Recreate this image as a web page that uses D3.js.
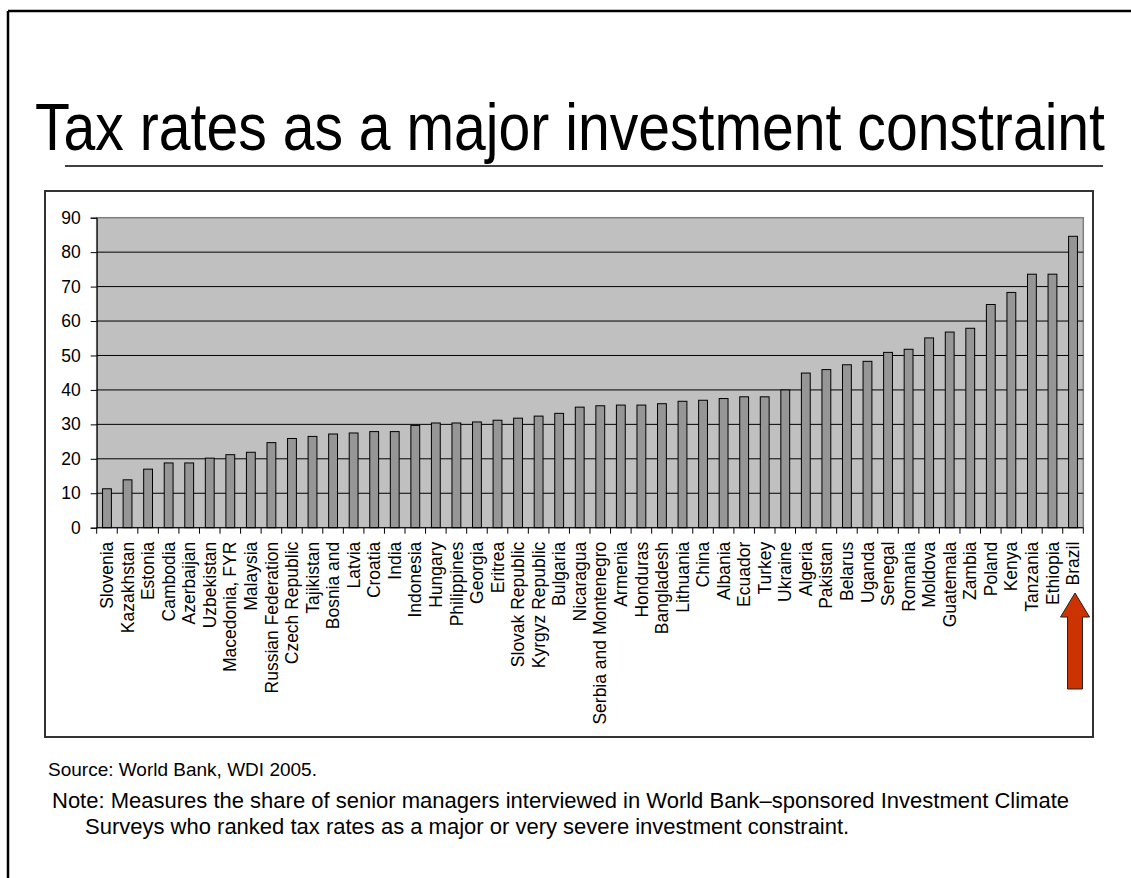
<!DOCTYPE html>
<html>
<head>
<meta charset="utf-8">
<script src="https://cdn.jsdelivr.net/npm/d3@7"></script>
<style>
  body { margin: 0; background: #fff; }
  svg { display: block; font-family: "Liberation Sans", Arial, sans-serif; }
</style>
</head>
<body>
<svg id="chart" width="1131" height="878"></svg>
<script>
// countries, sorted by share
var countries = ["Slovenia", "Kazakhstan", "Estonia", "Cambodia", "Azerbaijan", "Uzbekistan",
  "Macedonia, FYR", "Malaysia", "Russian Federation", "Czech Republic", "Tajikistan", "Bosnia and",
  "Latvia", "Croatia", "India", "Indonesia", "Hungary", "Philippines", "Georgia", "Eritrea",
  "Slovak Republic", "Kyrgyz Republic", "Bulgaria", "Nicaragua", "Serbia and Montenegro", "Armenia",
  "Honduras", "Bangladesh", "Lithuania", "China", "Albania", "Ecuador", "Turkey", "Ukraine",
  "Algeria", "Pakistan", "Belarus", "Uganda", "Senegal", "Romania", "Moldova", "Guatemala",
  "Zambia", "Poland", "Kenya", "Tanzania", "Ethiopia", "Brazil"];

// % of managers ranking tax rates a major constraint
var shares = [11.3, 13.9, 17.0, 18.8, 18.8, 20.2, 21.2, 21.9, 24.7, 25.9, 26.5, 27.2,
  27.5, 27.9, 27.9, 29.7, 30.4, 30.4, 30.7, 31.2, 31.8, 32.4, 33.2, 35.0, 35.4, 35.6,
  35.6, 36.0, 36.7, 37.0, 37.5, 38.0, 38.0, 40.0, 44.9, 45.9, 47.3, 48.3, 50.9, 51.8,
  55.1, 56.8, 57.9, 64.8, 68.3, 73.6, 73.6, 84.6];

var yTicks = [0, 10, 20, 30, 40, 50, 60, 70, 80, 90];
var highlight = "Brazil";

var svg = d3.select("#chart");

// slide frame
svg.append("line").attr("x1", 8).attr("y1", 11).attr("x2", 1131).attr("y2", 11)
  .attr("stroke", "#000").attr("stroke-width", 2.5);
svg.append("line").attr("x1", 8).attr("y1", 11).attr("x2", 8).attr("y2", 878)
  .attr("stroke", "#000").attr("stroke-width", 2.5);

// title + rule
svg.append("text")
  .attr("x", 35).attr("y", 150)
  .attr("font-size", 66)
  .attr("textLength", 1070).attr("lengthAdjust", "spacingAndGlyphs")
  .text("Tax rates as a major investment constraint");
svg.append("line").attr("x1", 65).attr("y1", 166).attr("x2", 1103).attr("y2", 166)
  .attr("stroke", "#000").attr("stroke-width", 1.5);

// chart box
svg.append("rect").attr("x", 45).attr("y", 191).attr("width", 1048).attr("height", 546)
  .attr("fill", "#fff").attr("stroke", "#333").attr("stroke-width", 2);

var plotL = 96.7, plotR = 1083.3, plotT = 217.7, plotB = 527.7;

var x = d3.scaleBand().domain(countries).range([plotL, plotR])
  .paddingInner(0.57).paddingOuter(0.285);
var y = d3.scaleLinear().domain([0, 90]).range([plotB, plotT]);

var g = svg.append("g");

// plot background
g.append("rect").attr("x", plotL).attr("y", plotT).attr("width", plotR - plotL).attr("height", plotB - plotT)
  .attr("fill", "#c0c0c0").attr("stroke", "#808080").attr("stroke-width", 1.5);

// gridlines
g.selectAll(".grid").data(yTicks.filter(function(d) { return d > 0 && d < 90; }))
  .enter().append("line")
  .attr("x1", plotL).attr("x2", plotR)
  .attr("y1", function(d) { return y(d); }).attr("y2", function(d) { return y(d); })
  .attr("stroke", "#000").attr("stroke-width", 1);

// bars
g.selectAll(".bar").data(countries).enter().append("rect")
  .attr("x", function(d) { return x(d); })
  .attr("width", x.bandwidth())
  .attr("y", function(d, i) { return y(shares[i]); })
  .attr("height", function(d, i) { return plotB - y(shares[i]); })
  .attr("fill", "#969696").attr("stroke", "#000").attr("stroke-width", 1);

// y axis
var yAxis = g.append("g").attr("transform", "translate(" + plotL + ",0)")
  .call(d3.axisLeft(y).tickValues(yTicks).tickSize(6).tickPadding(10));
yAxis.select(".domain").attr("stroke", "#000");
yAxis.selectAll("line").attr("stroke", "#000");
yAxis.selectAll("text").attr("font-size", 17.5).attr("font-family", "Liberation Sans, Arial, sans-serif").attr("fill", "#000");

// x axis: ticks on band boundaries
var step = x.step();
var edges = d3.range(countries.length + 1).map(function(i) { return plotL + i * step; });
g.append("line").attr("x1", plotL).attr("x2", plotR).attr("y1", plotB).attr("y2", plotB)
  .attr("stroke", "#000").attr("stroke-width", 1);
g.selectAll(".xtick").data(edges).enter().append("line")
  .attr("x1", function(d) { return d; }).attr("x2", function(d) { return d; })
  .attr("y1", plotB).attr("y2", plotB + 6)
  .attr("stroke", "#000").attr("stroke-width", 1);

g.selectAll(".xlabel").data(countries).enter().append("text")
  .attr("transform", function(d) {
    return "translate(" + (x(d) + x.bandwidth() / 2) + "," + (plotB + 14) + ") rotate(-90)";
  })
  .attr("dy", "0.35em")
  .attr("text-anchor", "end")
  .attr("font-size", 17.5)
  .text(function(d) { return d; });

// arrow under Brazil
var ax = x(highlight) + x.bandwidth() / 2 + 2;
var arrow = d3.path();
arrow.moveTo(ax, 593);
arrow.lineTo(ax + 14.5, 617);
arrow.lineTo(ax + 7.5, 617);
arrow.lineTo(ax + 7.5, 689);
arrow.lineTo(ax - 7.5, 689);
arrow.lineTo(ax - 7.5, 617);
arrow.lineTo(ax - 14.5, 617);
arrow.closePath();
svg.append("path").attr("d", arrow.toString())
  .attr("fill", "#cc3300").attr("stroke", "#222").attr("stroke-width", 1);

// source and note
svg.append("text").attr("x", 48).attr("y", 776).attr("font-size", 19)
  .text("Source: World Bank, WDI 2005.");
svg.append("text").attr("x", 52).attr("y", 808).attr("font-size", 22)
  .text("Note: Measures the share of senior managers interviewed in World Bank\u2013sponsored Investment Climate");
svg.append("text").attr("x", 85).attr("y", 834).attr("font-size", 22)
  .text("Surveys who ranked tax rates as a major or very severe investment constraint.");
</script>
</body>
</html>
